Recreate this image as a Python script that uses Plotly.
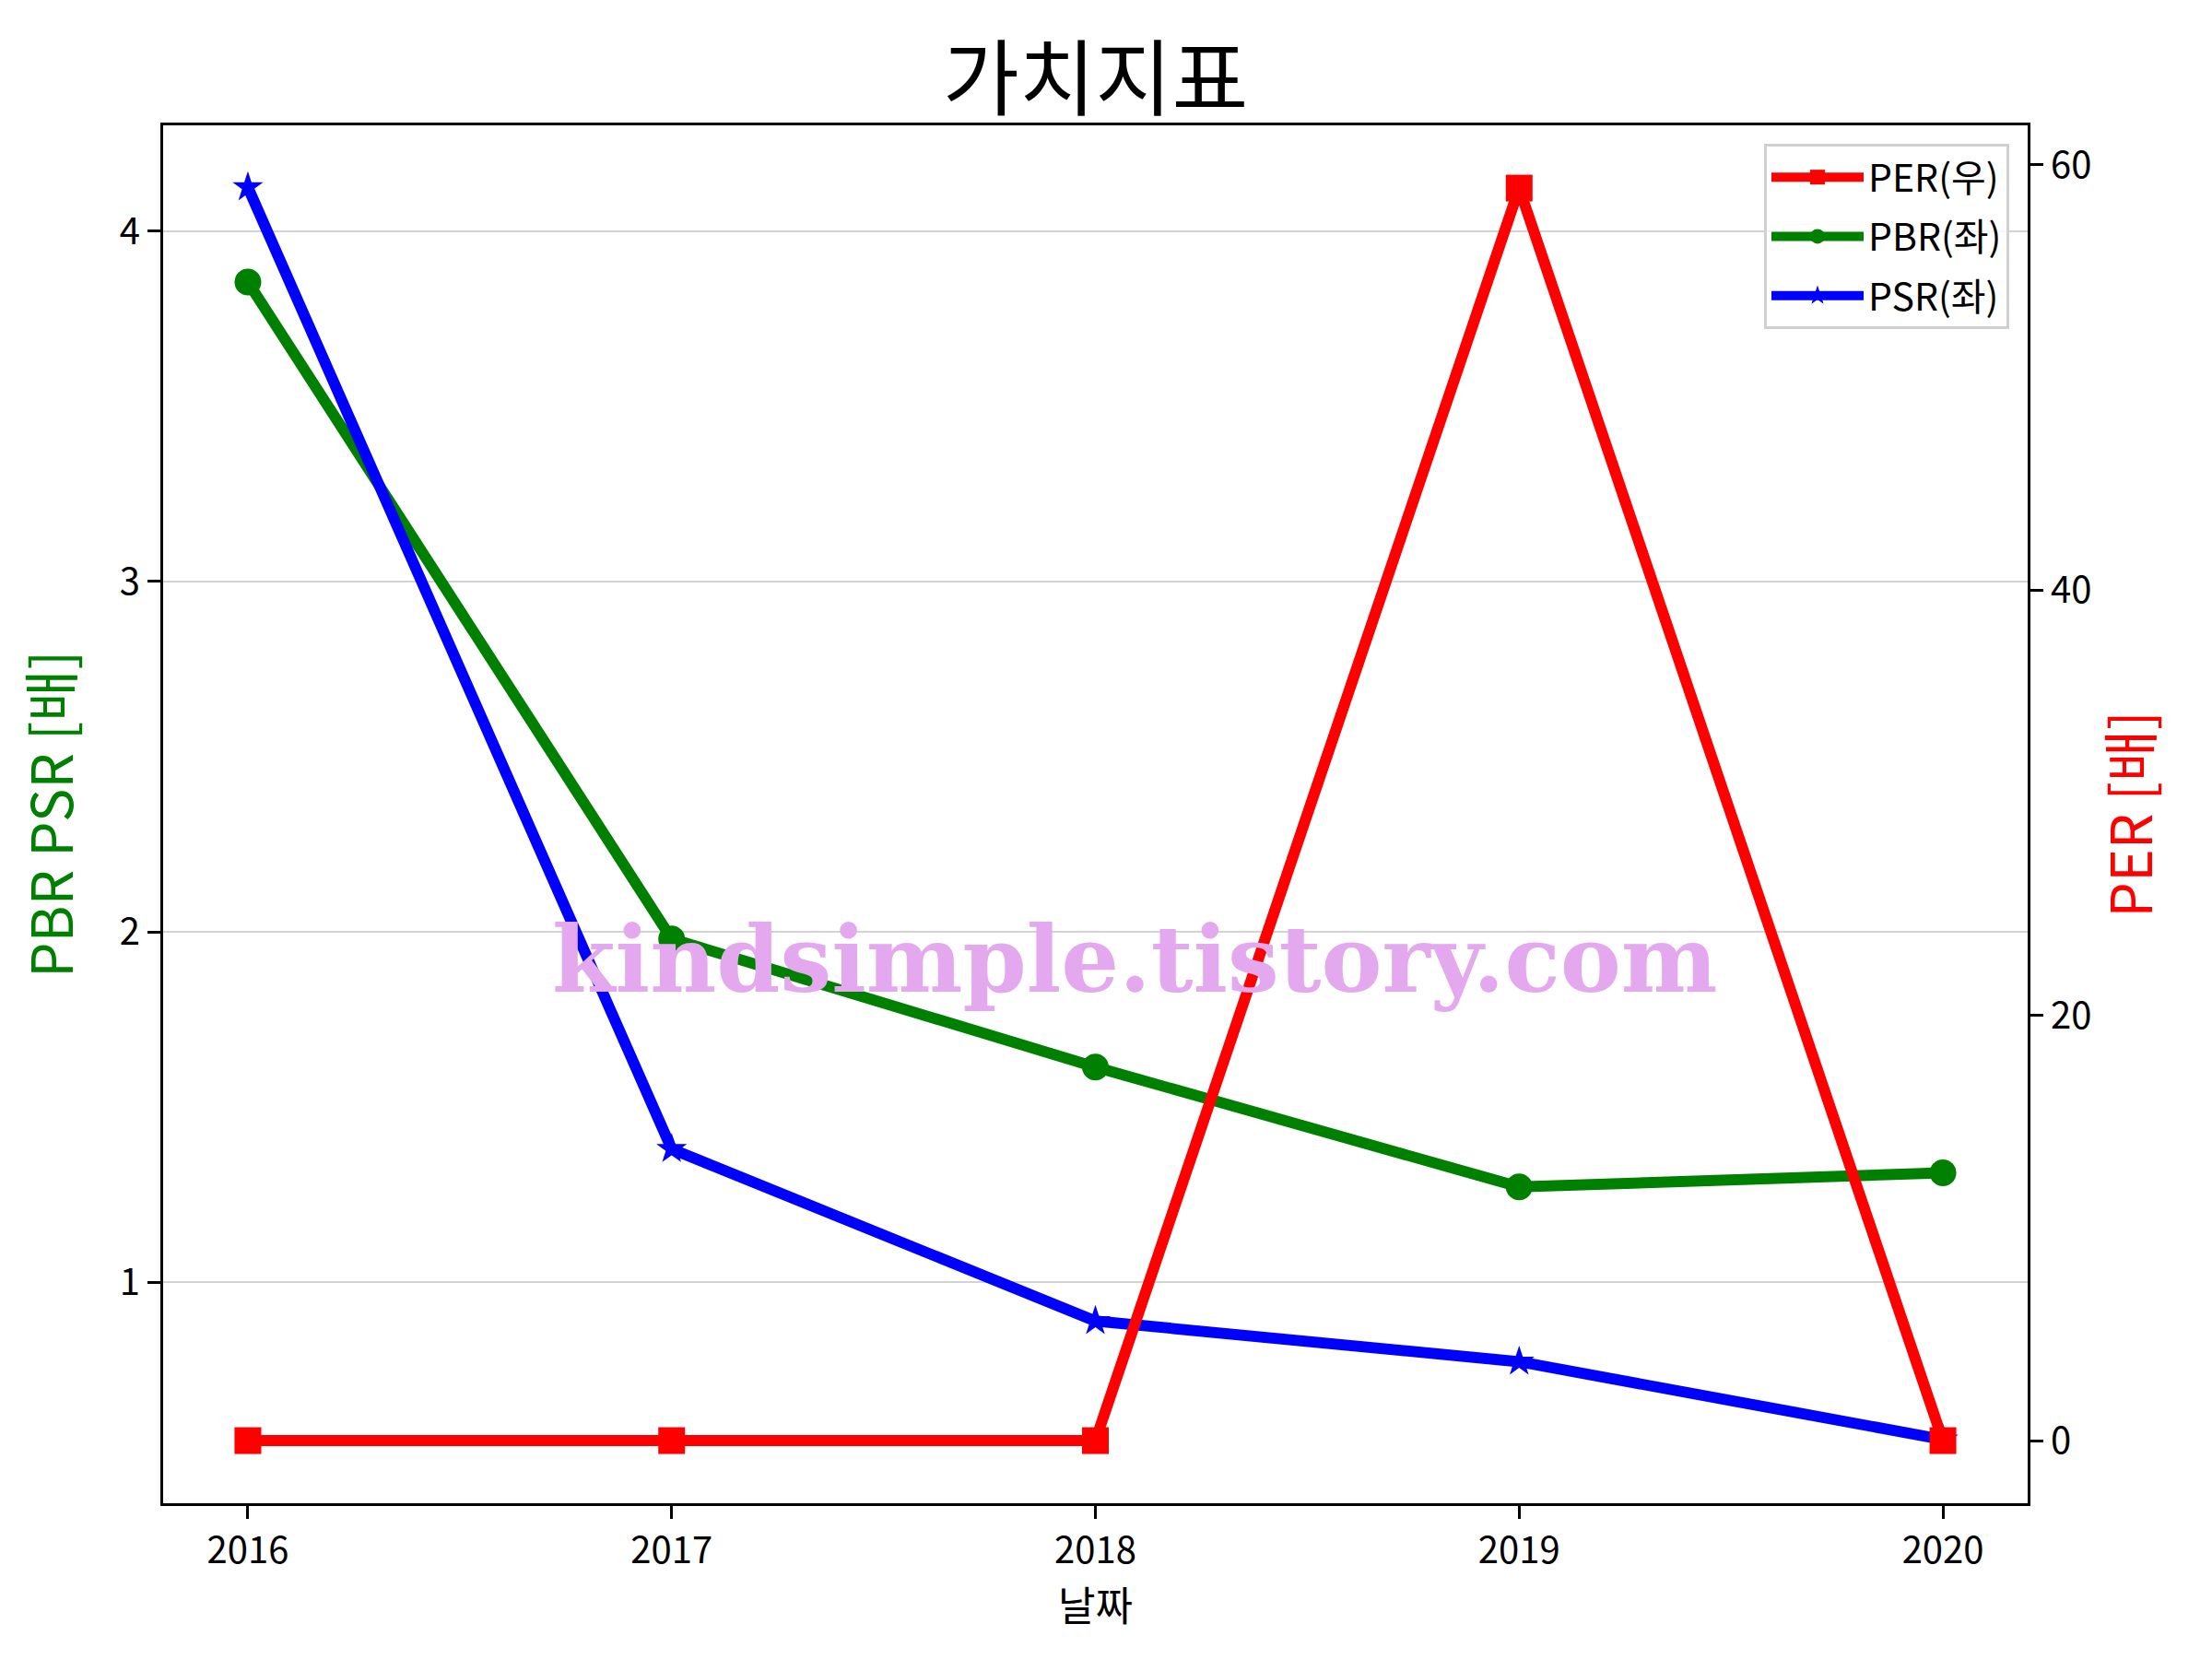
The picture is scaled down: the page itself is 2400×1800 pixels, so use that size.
import plotly.graph_objects as go

years = [2016, 2017, 2018, 2019, 2020]
per = [0.0, 0.0, 0.0, 58.9, 0.0]
pbr = [3.855, 1.98, 1.614, 1.272, 1.312]
psr = [4.125, 1.38, 0.889, 0.773, 0.551]

KFONT = "Noto Sans CJK KR"
W, H = 2400, 1800
OFF = 8  # page body margin
L, R, T, B = 177 - OFF, 200 + OFF, 136 - OFF, 169 + OFF
PW, PH = W - L - R, H - T - B

fig = go.Figure()
fig.add_trace(go.Scatter(x=years, y=pbr, name="PBR(좌)", mode="lines+markers",
                         line=dict(color="green", width=12),
                         marker=dict(symbol="circle", size=29, color="green"),
                         legendgroup="b", legendrank=2, yaxis="y"))
fig.add_trace(go.Scatter(x=years, y=psr, name="PSR(좌)", mode="lines+markers",
                         line=dict(color="blue", width=12),
                         marker=dict(symbol="star", size=25, color="blue"),
                         legendgroup="c", legendrank=3, yaxis="y"))
fig.add_trace(go.Scatter(x=years, y=per, name="PER(우)", mode="lines+markers",
                         line=dict(color="red", width=12),
                         marker=dict(symbol="square", size=29, color="red"),
                         legendgroup="a", legendrank=1, yaxis="y2"))

axis_common = dict(showline=True, linecolor="black", linewidth=3,
                   ticks="outside", ticklen=14, tickwidth=3, tickcolor="black",
                   tickfont=dict(family=KFONT, size=40, color="black"),
                   zeroline=False)

fig.update_layout(
    width=W, height=H,
    margin=dict(l=L, r=R, t=T, b=B),
    paper_bgcolor="white", plot_bgcolor="white",
    xaxis=dict(range=[2015.8, 2020.2], tickmode="array", tickvals=years,
               ticktext=[str(y) for y in years], showgrid=False, mirror=True,
               title=dict(text="날짜", standoff=14,
                          font=dict(family=KFONT, size=44, color="black")),
               **axis_common),
    yaxis=dict(range=[0.369, 4.302], tickvals=[1, 2, 3, 4], showgrid=True,
               gridcolor="#d3d3d3", gridwidth=2, mirror=True,
               title=dict(text="PBR PSR [배]", standoff=40,
                          font=dict(family=KFONT, size=61, color="green")),
               **axis_common),
    yaxis2=dict(range=[-2.945, 61.85], tickvals=[0, 20, 40, 60], overlaying="y",
                side="right", showgrid=False,
                title=dict(text="PER [배]", standoff=24,
                           font=dict(family=KFONT, size=61, color="red")),
                **axis_common),
    legend=dict(x=(2180 - 177) / PW, y=1 - (156 - 136) / PH, xanchor="right", yanchor="top",
                traceorder="grouped", tracegroupgap=8,
                bgcolor="rgba(255,255,255,0.8)", bordercolor="#d0d0d0", borderwidth=3,
                font=dict(family=KFONT, size=41, color="black"),
                itemwidth=100),
    showlegend=True,
)

# title as paper-anchored text centred over the plot area
fig.add_annotation(text="가치지표", xref="paper", yref="paper",
                   x=0.5, y=1 + (136 - 79) / PH,
                   xanchor="center", yanchor="middle", showarrow=False,
                   font=dict(family=KFONT, size=90, color="black"))

fig.add_annotation(text="kindsimple.tistory.com", xref="paper", yref="paper",
                   x=(1231 - 177) / PW, y=1 - (1041 - 136) / PH,
                   xanchor="center", yanchor="middle", showarrow=False,
                   font=dict(family="DejaVu Serif", size=99, color="#E3A8EE", weight="bold"))

fig.write_html("out.html")
